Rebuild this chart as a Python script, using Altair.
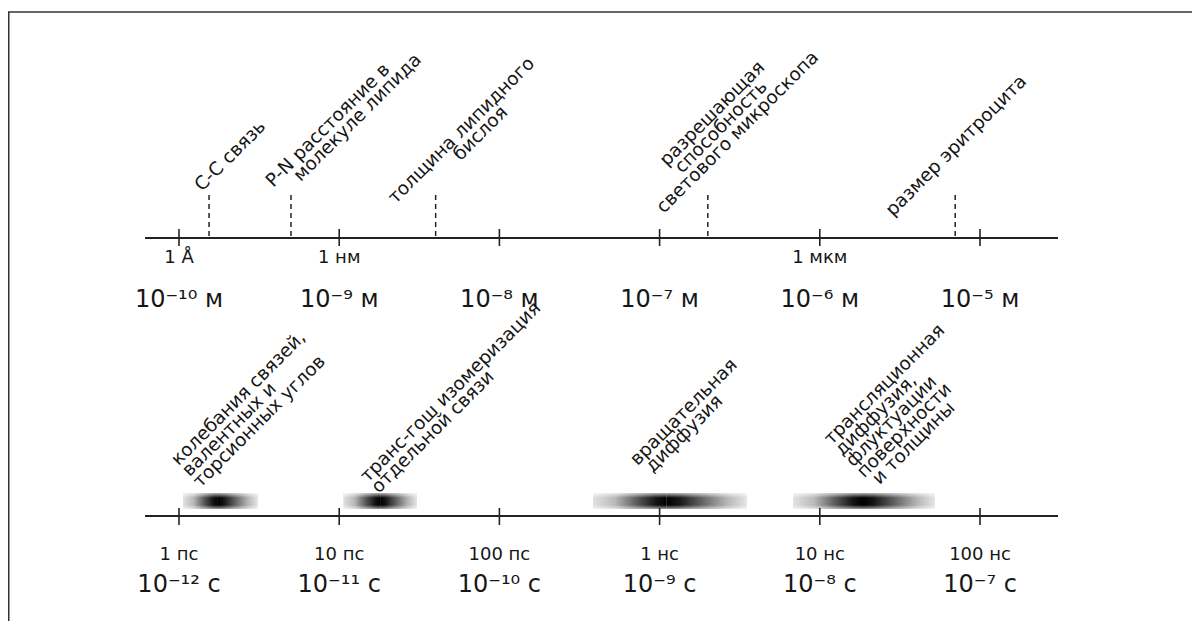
import altair as alt
import pandas as pd

# ---------------- length scale (top) ----------------
len_ticks = [1e-10, 1e-9, 1e-8, 1e-7, 1e-6, 1e-5]
len_names = ["1 Å", "1 нм", "", "", "1 мкм", ""]
len_powers = ["10⁻¹⁰ м", "10⁻⁹ м", "10⁻⁸ м", "10⁻⁷ м", "10⁻⁶ м", "10⁻⁵ м"]

len_marks = [1.54e-10, 5e-10, 4e-9, 2e-7, 7e-6]
len_label_at = [9.72e-11, 2.55e-10, 1.877e-9, 5.42e-8, 2.86e-6]
len_lines = [
    ["C-C связь"],
    ["P-N расстояние в", "молекуле липида"],
    ["толщина липидного", "бислоя"],
    ["разрешающая", "способность", "светового микроскопа"],
    ["размер эритроцита"],
]

# ---------------- time scale (bottom) ----------------
time_ticks = [1e-12, 1e-11, 1e-10, 1e-9, 1e-8, 1e-7]
time_names = ["1 пс", "10 пс", "100 пс", "1 нс", "10 нс", "100 нс"]
time_powers = ["10⁻¹² с", "10⁻¹¹ с", "10⁻¹⁰ с", "10⁻⁹ с", "10⁻⁸ с", "10⁻⁷ с"]

proc_start = [1.06e-12, 1.06e-11, 3.84e-10, 6.81e-9]
proc_peak = [1.75e-12, 1.80e-11, 1.10e-9, 1.86e-8]
proc_end = [3.11e-12, 3.06e-11, 3.51e-9, 5.24e-8]
proc_label_at = [7.83e-13, 1.51e-11, 5.74e-10, 6.90e-9]
proc_lines = [
    ["колебания связей,", "валентных и", "торсионных углов"],
    ["транс-гош изомеризация", "отдельной связи"],
    ["вращательная", "диффузия"],
    ["трансляционная", "диффузия,", "флуктуации", "поверхности", "и толщины"],
]

# ---------------- layout (indent of each label line, in spaces) ----------------
len_indent = [[6], [7, 11], [3, 16], [12, 13, 6], [0]]
proc_indent = [[4, 4, 4], [0, 0], [4, 5], [9, 9, 9, 9, 10]]

ZW, NB = "\u200b", "\u00a0"


def build(lines, indents):
    return "\n".join((ZW + NB * k if k else "") + s for s, k in zip(lines, indents))


len_labels = [build(l, i) for l, i in zip(len_lines, len_indent)]
proc_labels = [build(l, i) for l, i in zip(proc_lines, proc_indent)]

FONT = "DejaVu Sans"
INK = "#161616"
LINE = "#222222"
LFS = 18.5

XL = alt.Scale(type="log", domain=[1e-10, 1e-5], range=[171, 972], nice=False)
XT = alt.Scale(type="log", domain=[1e-12, 1e-7], range=[171, 972], nice=False)

df_lt = pd.DataFrame({"v": len_ticks, "name": len_names, "pw": len_powers})
df_lm = pd.DataFrame({"v": len_marks})
df_ll = pd.DataFrame({"v": len_label_at, "label": len_labels})
df_tt = pd.DataFrame({"t": time_ticks, "name": time_names, "pw": time_powers})
df_p = pd.DataFrame({"start": proc_start, "peak": proc_peak, "end": proc_end})
df_pl = pd.DataFrame({"t": proc_label_at, "label": proc_labels})
one = pd.DataFrame({"a": [0]})

xv = alt.X("v:Q", scale=XL, axis=None)
xt = alt.X("t:Q", scale=XT, axis=None)

# ---------- top group ----------
top_axis = alt.Chart(one).mark_rule(color=LINE, strokeWidth=1.8).encode(
    x=alt.value(137), x2=alt.value(1050), y=alt.value(230))
top_ticks = alt.Chart(df_lt).mark_rule(color=LINE, strokeWidth=1.6).encode(
    x=xv, y=alt.value(221), y2=alt.value(238))
top_names = alt.Chart(df_lt).mark_text(font=FONT, fontSize=18, color=INK, align="center",
                                        baseline="alphabetic").encode(
    x=xv, y=alt.value(255), text="name:N")
top_powers = alt.Chart(df_lt).mark_text(font=FONT, fontSize=24, color=INK, align="center",
                                         baseline="alphabetic").encode(
    x=xv, y=alt.value(299), text="pw:N")
top_dash = alt.Chart(df_lm).mark_rule(color=LINE, strokeWidth=1.5, strokeDash=[5, 4]).encode(
    x=xv, y=alt.value(187), y2=alt.value(230))
top_labels = alt.Chart(df_ll).mark_text(font=FONT, fontSize=LFS, color=INK, angle=315,
                                         align="left", baseline="alphabetic", lineBreak="\n",
                                         lineHeight=15.5).encode(
    x=xv, y=alt.value(209), text="label:N")
top = alt.layer(top_axis, top_ticks, top_names, top_powers, top_dash, top_labels)

# ---------- bottom group ----------
grad_left = alt.Gradient(gradient="linear", x1=0, x2=1, y1=0, y2=0, stops=[
    alt.GradientStop(color="#e2e2e2", offset=0),
    alt.GradientStop(color="#b9b9b9", offset=0.3),
    alt.GradientStop(color="#555555", offset=0.62),
    alt.GradientStop(color="#141414", offset=0.86),
    alt.GradientStop(color="#000000", offset=1)])
grad_right = alt.Gradient(gradient="linear", x1=0, x2=1, y1=0, y2=0, stops=[
    alt.GradientStop(color="#000000", offset=0),
    alt.GradientStop(color="#151515", offset=0.15),
    alt.GradientStop(color="#666666", offset=0.45),
    alt.GradientStop(color="#b5b5b5", offset=0.75),
    alt.GradientStop(color="#e6e6e6", offset=1)])
grad_fade = alt.Gradient(gradient="linear", x1=0, x2=0, y1=0, y2=1, stops=[
    alt.GradientStop(color="rgba(255,255,255,0.7)", offset=0),
    alt.GradientStop(color="rgba(255,255,255,0)", offset=0.3),
    alt.GradientStop(color="rgba(255,255,255,0)", offset=0.75),
    alt.GradientStop(color="rgba(255,255,255,0.6)", offset=1)])

xs = alt.X("start:Q", scale=XT, axis=None)
blob_left = alt.Chart(df_p).mark_rect(color=grad_left).encode(
    x=xs, x2="peak:Q", y=alt.value(485), y2=alt.value(501))
blob_right = alt.Chart(df_p).mark_rect(color=grad_right).encode(
    x=alt.X("peak:Q", scale=XT, axis=None), x2="end:Q", y=alt.value(485), y2=alt.value(501))
blob_fade = alt.Chart(df_p).mark_rect(color=grad_fade).encode(
    x=xs, x2="end:Q", y=alt.value(485), y2=alt.value(501))

bot_axis = alt.Chart(one).mark_rule(color=LINE, strokeWidth=1.8).encode(
    x=alt.value(137), x2=alt.value(1050), y=alt.value(508))
bot_ticks = alt.Chart(df_tt).mark_rule(color=LINE, strokeWidth=1.6).encode(
    x=xt, y=alt.value(500), y2=alt.value(517))
bot_names = alt.Chart(df_tt).mark_text(font=FONT, fontSize=18, color=INK, align="center",
                                        baseline="alphabetic").encode(
    x=xt, y=alt.value(552), text="name:N")
bot_powers = alt.Chart(df_tt).mark_text(font=FONT, fontSize=24, color=INK, align="center",
                                         baseline="alphabetic").encode(
    x=xt, y=alt.value(584), text="pw:N")
bot_labels = alt.Chart(df_pl).mark_text(font=FONT, fontSize=LFS, color=INK, angle=315,
                                         align="left", baseline="alphabetic", lineBreak="\n",
                                         lineHeight=15.5).encode(
    x=xt, y=alt.value(475), text="label:N")
bottom = alt.layer(blob_left, blob_right, blob_fade, bot_axis, bot_ticks, bot_names,
                   bot_powers, bot_labels)

# ---------- frame ----------
frame_top = alt.Chart(one).mark_rule(color="#333333", strokeWidth=1.5).encode(
    x=alt.value(0), x2=alt.value(1184), y=alt.value(4))
frame_left = alt.Chart(one).mark_rule(color="#333333", strokeWidth=1.5).encode(
    x=alt.value(0.75), y=alt.value(4), y2=alt.value(613))

chart = alt.layer(top, bottom, frame_top, frame_left).resolve_scale(x="independent").properties(
    width=1187, height=613, autosize=alt.AutoSizeParams(type="none"), padding=0,
    background="white"
).configure_view(stroke=None)

chart.save("out.html", embed_options={"renderer": "svg", "actions": False})
